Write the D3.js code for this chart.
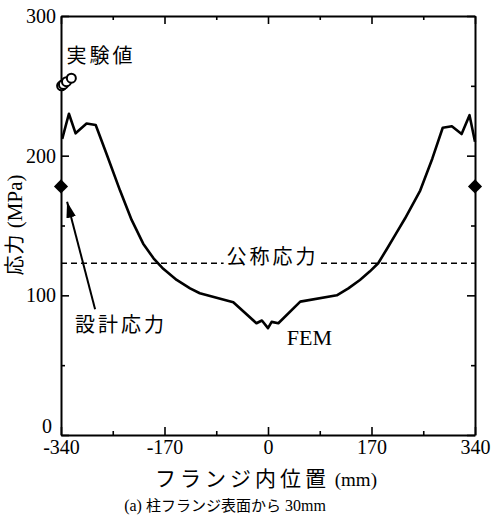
<!DOCTYPE html>
<html>
<head>
<meta charset="utf-8">
<script src="https://cdn.jsdelivr.net/npm/d3@7"></script>
<style>
  body { margin: 0; background: #fff; }
  text { fill: #000; }
</style>
</head>
<body>
<div id="container"></div>
<script>
// FEM stress distribution across the flange (mm, MPa)
const femX = [-338, -327, -316, -298, -283, -265, -243, -224, -205, -188, -172, -150, -128, -112, -57, -19, -10, 0, 6, 17, 53, 113, 132, 151, 167, 181, 195, 210, 225, 250, 270, 287, 302, 318, 331, 340];
const femY = [212, 230, 216, 223, 222, 201, 175, 154, 137, 126.5, 119, 111, 105, 101.5, 95, 80, 82, 76.5, 81, 80, 95.5, 100, 105, 111, 117, 123, 133, 144, 155, 175, 198, 220, 221, 215.5, 229, 210];

// measured values (実験値)
const expX = [-339, -336, -331, -323];
const expY = [250, 251, 253, 255.5];

// design stress (設計応力)
const designX = [-340, 340];
const designY = [178, 178];

// nominal stress (公称応力)
const nominal = 123;

const xTicks = [-340, -170, 0, 170, 340];
const xMinor = [-255, -85, 85, 255];
const yTicks = [0, 100, 200, 300];
const yMinor = [50, 150, 250];

const width = 493, height = 518;
const margin = { top: 16, right: 18, bottom: 83, left: 61 };
const cjk = "'Noto Sans CJK JP', 'Noto Sans', sans-serif";
const serif = "'Liberation Serif', 'Times New Roman', serif";

const svg = d3.select("#container").append("svg")
  .attr("width", width).attr("height", height);
svg.append("rect").attr("width", width).attr("height", height).attr("fill", "white");

const x = d3.scaleLinear().domain([-340, 340]).range([margin.left, width - margin.right]);
const y = d3.scaleLinear().domain([0, 300]).range([height - margin.bottom, margin.top]);

const fmt = d => String(d);

// frame + ticks (inward)
const axes = [
  [d3.axisBottom(x), `translate(0,${y(0)})`, xTicks, xMinor, true, "x"],
  [d3.axisTop(x), `translate(0,${y(300)})`, xTicks, xMinor, false, "t"],
  [d3.axisLeft(y), `translate(${x(-340)},0)`, yTicks, yMinor, true, "y"],
  [d3.axisRight(y), `translate(${x(340)},0)`, yTicks, yMinor, false, "r"]
];
axes.forEach(([ax, tr, major, minor, labels, cls]) => {
  const g = svg.append("g").attr("class", "axis-" + cls).attr("transform", tr)
    .call(ax.tickValues(major).tickSize(-8).tickSizeOuter(0).tickPadding(5)
      .tickFormat(labels ? fmt : ""));
  g.select(".domain").attr("stroke-width", 2);
  g.selectAll(".tick line").attr("stroke-width", 1.6);
  g.selectAll("text").attr("font-family", serif).attr("font-size", 20);
  const m = svg.append("g").attr("transform", tr)
    .call(ax.tickValues(minor).tickSize(-4).tickFormat(""));
  m.select(".domain").remove();
  m.selectAll(".tick line").attr("stroke-width", 1.6);
});
// y label "0" sits a little up and left, clear of "-340"
svg.select(".axis-y").selectAll(".tick text")
  .filter(d => d === 0)
  .attr("x", -9).attr("dy", "-0.12em");

// nominal stress dashed line
svg.append("line")
  .attr("x1", x(-340)).attr("x2", x(340))
  .attr("y1", y(nominal)).attr("y2", y(nominal))
  .attr("stroke", "#000").attr("stroke-width", 1.5).attr("stroke-dasharray", "6,4");

// FEM line
const femData = femX.map((v, i) => [v, femY[i]]);
svg.append("path")
  .datum(femData)
  .attr("fill", "none")
  .attr("stroke", "#000")
  .attr("stroke-width", 2.6)
  .attr("stroke-linejoin", "round")
  .attr("d", d3.line().x(d => x(d[0])).y(d => y(d[1])));

// experimental circles
svg.selectAll(".exp")
  .data(expX.map((v, i) => [v, expY[i]]))
  .join("circle")
  .attr("cx", d => x(d[0])).attr("cy", d => y(d[1]))
  .attr("r", 4.5)
  .attr("fill", "white").attr("stroke", "#000").attr("stroke-width", 2);

// design stress diamonds
svg.selectAll(".dsg")
  .data(designX.map((v, i) => [v, designY[i]]))
  .join("path")
  .attr("d", d3.symbol(d3.symbolSquare, 100))
  .attr("transform", d => `translate(${x(d[0])},${y(d[1])}) rotate(45)`)
  .attr("fill", "#000");

// arrow to design stress
const arrowFrom = [-284, 90], arrowTo = [-330, 167];
svg.append("defs").append("marker")
  .attr("id", "head").attr("viewBox", "0 0 10 10")
  .attr("refX", 10).attr("refY", 5)
  .attr("markerWidth", 16).attr("markerHeight", 16)
  .attr("markerUnits", "userSpaceOnUse")
  .attr("orient", "auto")
  .append("path").attr("d", "M0,2 L10,5 L0,8 Z").attr("fill", "#000");
svg.append("line")
  .attr("x1", x(arrowFrom[0])).attr("y1", y(arrowFrom[1]))
  .attr("x2", x(arrowTo[0])).attr("y2", y(arrowTo[1]))
  .attr("stroke", "#000").attr("stroke-width", 2)
  .attr("marker-end", "url(#head)");

// annotations
const notes = [
  { t: "実験値", x: -331, y: 272 },
  { t: "公称応力", x: -68, y: 128, bg: true },
  { t: "設計応力", x: -317, y: 79 }
];
notes.forEach(n => {
  const txt = svg.append("text")
    .attr("x", x(n.x)).attr("y", y(n.y))
    .attr("dy", "0.38em")
    .attr("font-family", cjk).attr("font-size", 20)
    .attr("letter-spacing", 3)
    .text(n.t);
  if (n.bg) {
    const b = txt.node().getBBox();
    svg.insert("rect", () => txt.node())
      .attr("x", b.x - 3).attr("y", b.y).attr("width", b.width + 3).attr("height", b.height)
      .attr("fill", "white");
  }
});
svg.append("text")
  .attr("x", x(31)).attr("y", y(64.5))
  .attr("font-family", serif).attr("font-size", 22)
  .text("FEM");

// y axis title
const yt = svg.append("text")
  .attr("transform", `translate(22,225) rotate(-90)`)
  .attr("text-anchor", "middle");
yt.append("tspan").attr("font-family", cjk).attr("font-size", 20).attr("letter-spacing", 1).text("応力");
yt.append("tspan").attr("font-family", serif).attr("font-size", 21).text(" (MPa)");

// x axis title
const xt = svg.append("text").attr("x", 266).attr("y", 486).attr("text-anchor", "middle");
xt.append("tspan").attr("font-family", cjk).attr("font-size", 21).attr("letter-spacing", 4).text("フランジ内位置");
xt.append("tspan").attr("font-family", serif).attr("font-size", 19).text(" (mm)");

// caption
const cap = svg.append("text").attr("x", 225).attr("y", 511).attr("text-anchor", "middle");
cap.append("tspan").attr("font-family", serif).attr("font-size", 16).text("(a) ");
cap.append("tspan").attr("font-family", cjk).attr("font-size", 15).text("柱フランジ表面から");
cap.append("tspan").attr("font-family", serif).attr("font-size", 16).text(" 30mm");
</script>
</body>
</html>
